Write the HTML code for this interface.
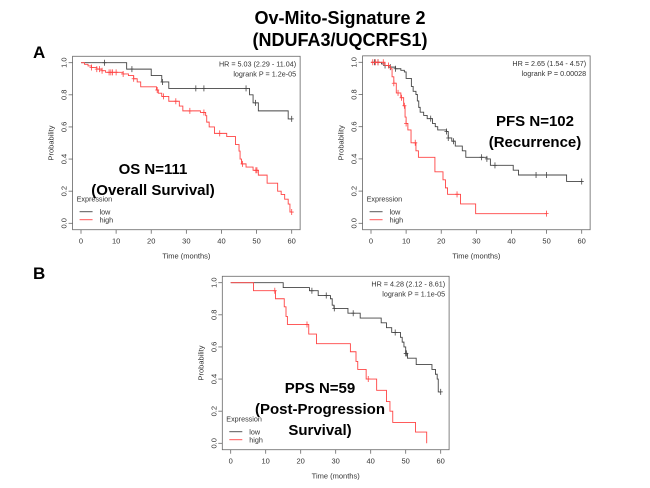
<!DOCTYPE html>
<html><head><meta charset="utf-8"><style>
html,body{margin:0;padding:0;background:#fff;width:650px;height:488px;overflow:hidden}
svg{display:block;font-family:"Liberation Sans",sans-serif}
</style></head><body>
<svg id="fig" width="650" height="488" viewBox="0 0 650 488">
<text x="340" y="24" text-anchor="middle" font-size="18" font-weight="bold">Ov-Mito-Signature 2</text>
<text x="340" y="46" text-anchor="middle" font-size="18" font-weight="bold">(NDUFA3/UQCRFS1)</text>
<text x="33" y="58" font-size="17" font-weight="bold">A</text>
<text x="33" y="279" font-size="17" font-weight="bold">B</text>
</svg>
<script>
// OS plot data
const osLowT=[0,13,20,23,25,48,49,50.5,59];
const osLowS=[1,0.96,0.92,0.88,0.84,0.80,0.75,0.70,0.65];
const osLowCT=[6.7,14.5,23.2,32.7,35,47,49.7,60];
const osHighT=[0,1,2,3,4.5,6,7,12,13.5,15,16,17,21.5,22,23,25,28,29,34,35.5,35.8,36.5,38,41.5,44,45,45.3,45.7,47,49,50.5,53,56,57,58,59,59.5];
const osHighS=[1,0.99,0.98,0.97,0.96,0.95,0.94,0.93,0.92,0.90,0.88,0.85,0.83,0.81,0.79,0.76,0.73,0.70,0.69,0.67,0.63,0.60,0.56,0.54,0.49,0.45,0.40,0.37,0.35,0.33,0.30,0.25,0.20,0.18,0.15,0.12,0.07];
const osHighCT=[3,4.5,5.3,6,8,8.5,9,10,12,15,21.7,23.5,27,31,35,39.5,46,49.8,50.1,60];
// PFS plot data
const pfsLowT=[0,3,4,5,7,8.5,9.5,10,11.5,12,12.8,13.2,13.6,14,15,16,17.5,18.3,19,21.5,22,23,24,26,27,33,34,40.5,42,55.7];
const pfsLowS=[1,0.99,0.98,0.97,0.96,0.95,0.94,0.90,0.85,0.82,0.80,0.76,0.72,0.69,0.67,0.65,0.62,0.60,0.58,0.57,0.53,0.51,0.48,0.45,0.41,0.40,0.36,0.33,0.30,0.26];
const pfsLowCT=[1,2,4,5.5,7,17,21.5,22,23.5,31.5,33,35.3,47,50,60];
const pfsHighT=[0,4,5.5,6,6.5,7.2,8.5,9.3,9.7,10,10.5,11.4,12.8,13.5,18.2,20.5,21.2,21.8,25.5,29.8];
const pfsHighS=[1,0.98,0.96,0.91,0.87,0.81,0.78,0.73,0.66,0.62,0.58,0.50,0.45,0.41,0.32,0.27,0.22,0.18,0.12,0.06];
const pfsHighCT=[0.5,1.3,2,3.5,5,6.5,7.7,8.7,9.5,10,12.6,24.5,50];
// PPS plot data
const ppsLowT=[0,15,22.5,25,28.5,29,29.5,33.5,37,43,44.5,46,48.5,49,49.5,50,50.5,53,57.5,58.5,59,59.3];
const ppsLowS=[1,0.97,0.95,0.92,0.90,0.86,0.84,0.81,0.78,0.75,0.72,0.69,0.66,0.63,0.60,0.56,0.53,0.49,0.46,0.43,0.40,0.32];
const ppsLowCT=[23.2,27.3,29.6,35,47,50,50.2,60];
const ppsHighT=[0,6.5,12.8,15.3,15.8,16.2,22.3,24.5,34.2,35.8,36.3,38.7,41.7,44.5,45.5,46.3,52.8,56];
const ppsHighS=[1,0.95,0.90,0.85,0.79,0.74,0.68,0.62,0.57,0.51,0.46,0.40,0.33,0.26,0.20,0.13,0.07,0.0];
const ppsHighCT=[12.6,21.8,39.3];
const xTicks=[0,10,20,30,40,50,60];
const yTicks=[0,0.2,0.4,0.6,0.8,1.0];

const NS='http://www.w3.org/2000/svg';
const svg=document.getElementById('fig');
function mk(tag,attrs,parent,txt){const e=document.createElementNS(NS,tag);for(const k in attrs)e.setAttribute(k,attrs[k]);if(txt!=null)e.textContent=txt;(parent||svg).appendChild(e);return e;}

function plot(cfg){
  const g=mk('g',{},svg);
  
  
  const x0=cfg.x0,x60=cfg.x60,y1=cfg.y1,y0=cfg.y0;
  const sx=v=>x0+(x60-x0)*v/60, sy=v=>y0+(y1-y0)*v;
  const L=sx(-2.4),R=sx(62.4),T=sy(1.04),B=sy(-0.04);
  const frame=mk('rect',{x:L,y:T,width:R-L,height:B-T,fill:'none',stroke:'#666','stroke-width':0.8},g);
  
  
  xTicks.forEach(t=>{
    mk('line',{x1:sx(t),x2:sx(t),y1:B,y2:B+4,stroke:'#666','stroke-width':0.8},g);
    const tl=mk('text',{x:sx(t),y:B+14,'text-anchor':'middle','font-size':7.5,fill:'#333'},g,String(t));
    
    
  });
  yTicks.forEach(t=>{
    mk('line',{x1:L,x2:L-4,y1:sy(t),y2:sy(t),stroke:'#666','stroke-width':0.8},g);
    const tl=mk('text',{x:0,y:0,'text-anchor':'middle','font-size':7.5,fill:'#333',transform:`translate(${L-6},${sy(t)}) rotate(-90)`},g,t.toFixed(1));
    
    
  });
  const xt=mk('text',{x:(L+R)/2,y:B+29,'text-anchor':'middle','font-size':7.5,fill:'#333'},g,'Time (months)');
  
  
  const yt=mk('text',{x:0,y:0,'text-anchor':'middle','font-size':7.5,fill:'#333',transform:`translate(${L-19},${(T+B)/2}) rotate(-90)`},g,'Probability');
  
  
  function series(T_,S_,C_,end,col,nm){
    let d=`M${sx(T_[0])},${sy(S_[0])}`;
    for(let i=1;i<T_.length;i++){d+=`H${sx(T_[i])}V${sy(S_[i])}`;}
    d+=`H${sx(end)}`;
    const p=mk('path',{d:d,fill:'none',stroke:col,'stroke-width':0.9},g);
    
    
    C_.forEach(c=>{
      let s=S_[0];for(let i=0;i<T_.length;i++){if(T_[i]<=c)s=S_[i];}
      const m=mk('path',{d:`M${sx(c)},${sy(s)-3}V${sy(s)+3}M${sx(c)-2},${sy(s)}H${sx(c)+2}`,stroke:col,'stroke-width':0.8},g);
      
      
    });
  }
  series(cfg.lowT,cfg.lowS,cfg.lowC,cfg.lowEnd,'#444','low');
  series(cfg.highT,cfg.highS,cfg.highC,cfg.highEnd,'#f44','high');
  const hr=mk('text',{x:R-4,y:T+10,'text-anchor':'end','font-size':7.2,fill:'#333'},g,cfg.hr);
  
  
  const lp=mk('text',{x:R-4,y:T+20,'text-anchor':'end','font-size':7.2,fill:'#333'},g,cfg.p);
  
  
  const lg=mk('g',{},g);
  
  
  const lx=L+4, ly=B-28;
  mk('text',{x:lx,y:ly,'font-size':7.2,fill:'#333'},lg,'Expression');
  mk('line',{x1:lx+3,x2:lx+16,y1:ly+10,y2:ly+10,stroke:'#444','stroke-width':0.9},lg);
  mk('text',{x:lx+23,y:ly+13,'font-size':7.2,fill:'#333'},lg,'low');
  mk('line',{x1:lx+3,x2:lx+16,y1:ly+18,y2:ly+18,stroke:'#f44','stroke-width':0.9},lg);
  mk('text',{x:lx+23,y:ly+21,'font-size':7.2,fill:'#333'},lg,'high');
  cfg.big.forEach((t,i)=>{
    const b=mk('text',{x:cfg.bx,y:cfg.by+i*21,'text-anchor':'middle','font-size':15,'font-weight':'bold',fill:'#000'},g,t);
    
    
  });
}
plot({name:'os-km-plot',x0:81,x60:291.7,y1:62.7,y0:223.3,lowT:osLowT,lowS:osLowS,lowC:osLowCT,lowEnd:60,highT:osHighT,highS:osHighS,highC:osHighCT,highEnd:60,hr:'HR = 5.03 (2.29 - 11.04)',p:'logrank P = 1.2e-05',big:['OS N=111','(Overall Survival)'],bx:153,by:174});
plot({name:'pfs-km-plot',x0:371,x60:581.7,y1:62.3,y0:223.3,lowT:pfsLowT,lowS:pfsLowS,lowC:pfsLowCT,lowEnd:60,highT:pfsHighT,highS:pfsHighS,highC:pfsHighCT,highEnd:50,hr:'HR = 2.65 (1.54 - 4.57)',p:'logrank P = 0.00028',big:['PFS N=102','(Recurrence)'],bx:535,by:126});
plot({name:'pps-km-plot',x0:230.7,x60:440.7,y1:282.7,y0:443.3,lowT:ppsLowT,lowS:ppsLowS,lowC:ppsLowCT,lowEnd:60,highT:ppsHighT,highS:ppsHighS,highC:ppsHighCT,highEnd:56,hr:'HR = 4.28 (2.12 - 8.61)',p:'logrank P = 1.1e-05',big:['PPS N=59','(Post-Progression','Survival)'],bx:320,by:393});
</script>
</body></html>
